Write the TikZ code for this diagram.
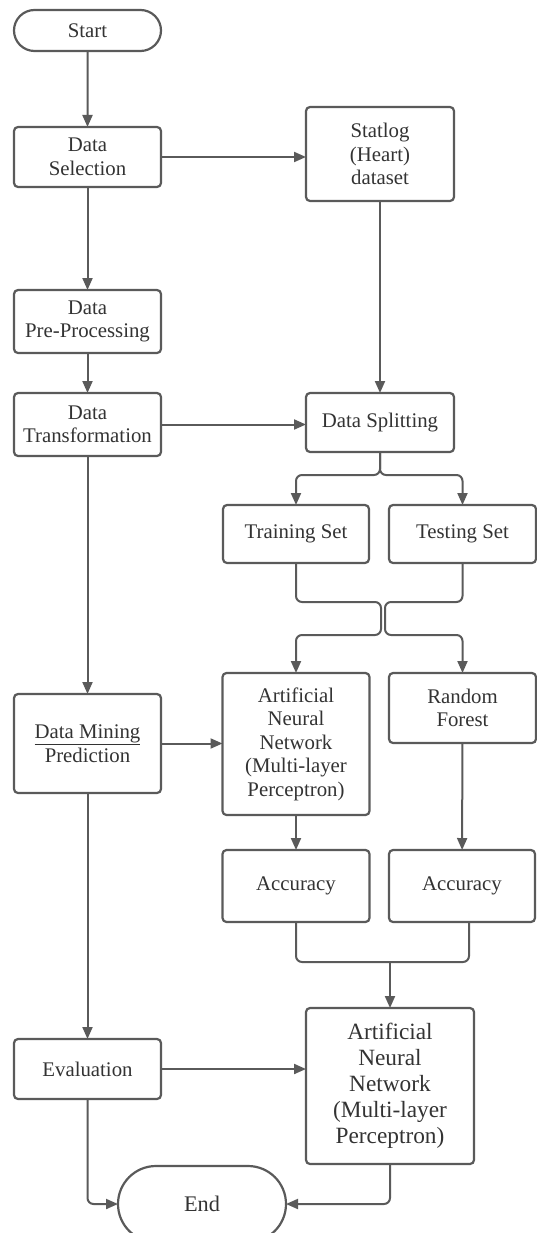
\documentclass[tikz,border=0pt]{standalone}
\usepackage{fontspec}
\setmainfont{Liberation Serif}
\usetikzlibrary{arrows.meta,shapes.misc,calc}
\definecolor{linegray}{HTML}{5A5A5A}
\definecolor{textgray}{HTML}{333333}
\tikzset{
  every node/.style={text=textgray},
  box/.style={draw=linegray, line width=2.2pt, rounded corners=4pt, fill=white,
              align=center, inner sep=2pt, outer sep=0pt,
              font=\fontsize{20.8}{23.5}\selectfont},
  bigbox/.style={box, font=\fontsize{23.3}{26}\selectfont},
  term/.style={draw=linegray, line width=2.2pt, rounded rectangle, fill=white,
               outer sep=0pt, inner sep=0pt, font=\fontsize{20.8}{23.5}\selectfont},
  conn/.style={draw=linegray, line width=2pt},
  arr/.style={conn, -{Triangle[length=12pt,width=10pt]}},
}
\begin{document}
\begin{tikzpicture}[x=1pt,y=-1pt]
\useasboundingbox (0,0) rectangle (537,1233);
\clip (0,0) rectangle (537,1233);

% left column
\node[term, minimum width=147, minimum height=41] (start) at (87.5,30.5) {Start};
\node[box, minimum width=147, minimum height=60] (ds) at (87.5,157) {Data\\Selection};
\node[box, minimum width=147, minimum height=63] (pre) at (87.5,321.5) {Data\\Pre-Processing};
\node[box, minimum width=147, minimum height=63] (trans) at (87.5,424.5) {Data\\Transformation};
\node[box, minimum width=147, minimum height=99] (dmp) at (87.5,743.5) {\underline{Data Mining}\\Prediction};
\node[box, minimum width=147, minimum height=60] (eval) at (87.5,1069) {Evaluation};
\node[term, minimum width=168, minimum height=76, font=\fontsize{22.3}{25}\selectfont] (end) at (202,1204) {End};

% right column
\node[box, minimum width=148, minimum height=94] (stat) at (380,154) {Statlog\\(Heart)\\dataset};
\node[box, minimum width=148, minimum height=59] (split) at (380,422.5) {Data Splitting};
\node[box, minimum width=146, minimum height=58] (train) at (296,534) {Training Set};
\node[box, minimum width=147, minimum height=58] (test) at (462.5,534) {Testing Set};
\node[box, minimum width=147, minimum height=142] (ann) at (296,744) {Artificial\\Neural\\Network\\(Multi-layer\\Perceptron)};
\node[box, minimum width=147, minimum height=70] (rf) at (462.5,708) {Random\\Forest};
\node[box, minimum width=147, minimum height=72] (acc1) at (296,886) {Accuracy};
\node[box, minimum width=146, minimum height=72] (acc2) at (462,886) {Accuracy};
\node[bigbox, minimum width=168, minimum height=156] (ann2) at (390,1086) {Artificial\\Neural\\Network\\(Multi-layer\\Perceptron)};

% junction points
\coordinate (j1) at (380,475);
\coordinate (m1) at (381,602);
\coordinate (m2) at (381,635);
\coordinate (n1) at (385,602);
\coordinate (n2) at (385,635);
\coordinate (k1) at (390,962);

% main flow
\draw[arr] (start) -- (ds);
\draw[arr] (ds) -- (pre);
\draw[arr] (pre) -- (trans);
\draw[arr] (trans) -- (dmp);
\draw[arr] (dmp) -- (eval);
\draw[arr] (ds.east) -- (ds.east -| stat.west);
\draw[arr] (stat) -- (split);
\draw[arr] (trans.east) -- (trans.east -| split.west);

% splitting into training and testing sets
\draw[arr, rounded corners=6pt] (split.south) -- (j1) -| (train.north);
\draw[arr, rounded corners=6pt] (split.south) -- (j1) -| (test.north);

% both sets feed both models
\draw[arr, rounded corners=6pt] (train.south) |- (m1) -- (m2) -| (ann.north);
\draw[arr, rounded corners=6pt] (test.south) |- (n1) -- (n2) -| (rf.north);

\draw[arr] (dmp.east) -- (dmp.east -| ann.west);
\draw[arr] (ann) -- (acc1);
\draw[arr] (rf) -- (acc2);

% accuracies compared
\draw[conn, rounded corners=6pt] (acc1.south) |- (k1) -| ([xshift=7pt]acc2.south);
\draw[arr] (k1) -- (ann2.north);

\draw[arr] (eval.east) -- (eval.east -| ann2.west);
\draw[arr, rounded corners=6pt] (eval.south) |- (end.west);
\draw[arr, rounded corners=6pt] (ann2.south) |- (end.east);
\end{tikzpicture}
\end{document}
